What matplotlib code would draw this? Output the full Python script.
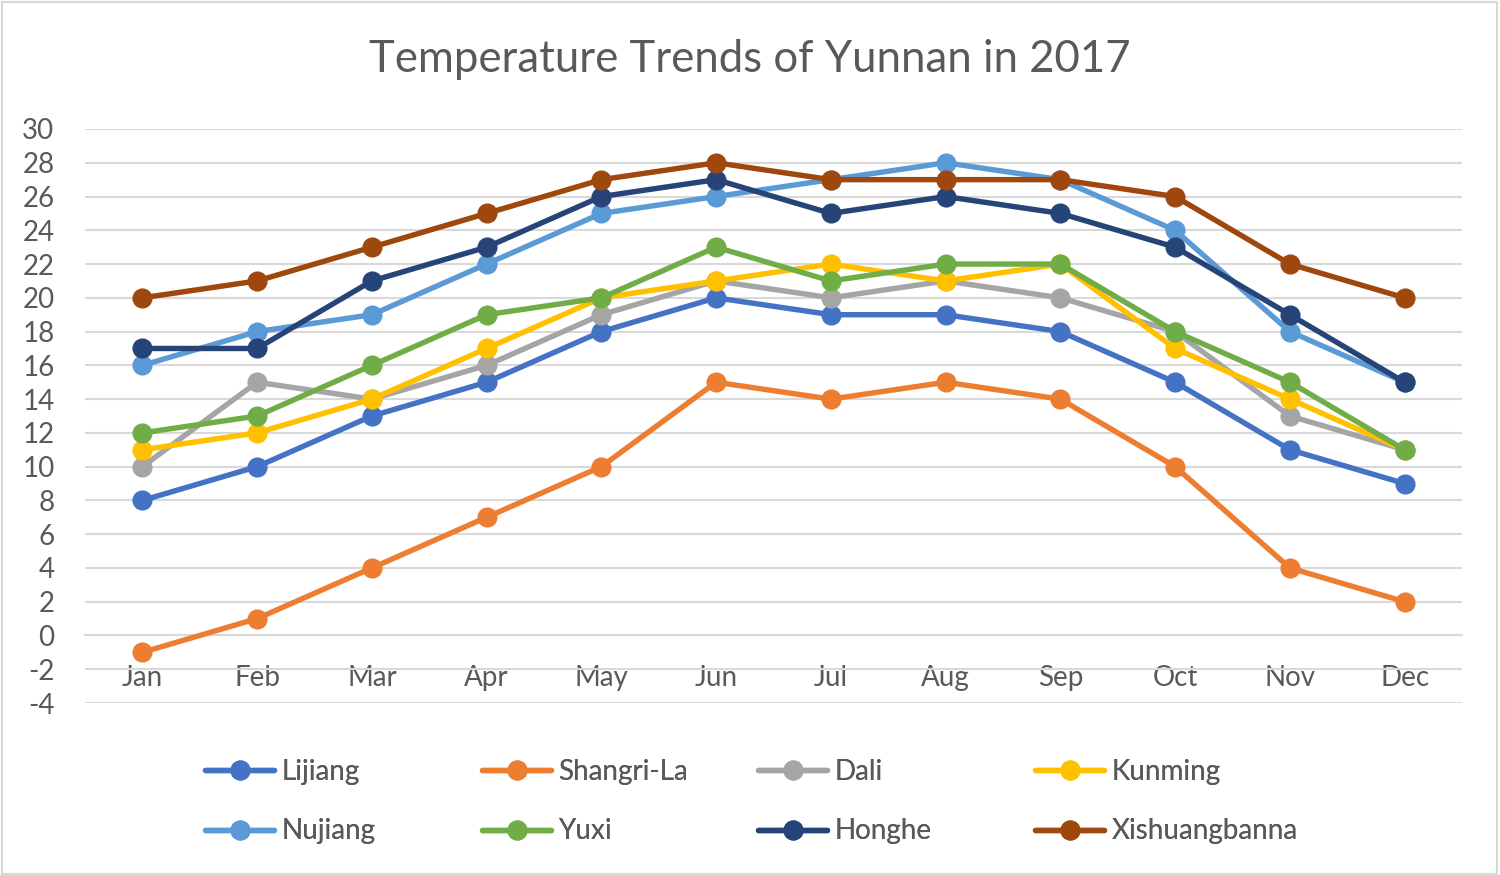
import matplotlib
matplotlib.use("Agg")
import matplotlib.pyplot as plt
from matplotlib.patches import Rectangle

plt.rcParams['font.family'] = ['Lato', 'DejaVu Sans']
plt.rcParams['axes.unicode_minus'] = False

months = ["Jan", "Feb", "Mar", "Apr", "May", "Jun", "Jul", "Aug", "Sep", "Oct", "Nov", "Dec"]

lijiang = [8, 10, 13, 15, 18, 20, 19, 19, 18, 15, 11, 9]
shangrila = [-1, 1, 4, 7, 10, 15, 14, 15, 14, 10, 4, 2]
dali = [10, 15, 14, 16, 19, 21, 20, 21, 20, 18, 13, 11]
kunming = [11, 12, 14, 17, 20, 21, 22, 21, 22, 17, 14, 11]
nujiang = [16, 18, 19, 22, 25, 26, 27, 28, 27, 24, 18, 15]
yuxi = [12, 13, 16, 19, 20, 23, 21, 22, 22, 18, 15, 11]
honghe = [17, 17, 21, 23, 26, 27, 25, 26, 25, 23, 19, 15]
xishuangbanna = [20, 21, 23, 25, 27, 28, 27, 27, 27, 26, 22, 20]

series_names = ["Lijiang", "Shangri-La", "Dali", "Kunming", "Nujiang", "Yuxi", "Honghe", "Xishuangbanna"]
series_values = [lijiang, shangrila, dali, kunming, nujiang, yuxi, honghe, xishuangbanna]
colors = ["#4472C4", "#ED7D31", "#A5A5A5", "#FFC000", "#5B9BD5", "#70AD47", "#264478", "#9E480E"]

text_color = "#595959"
grid_color = "#D9D9D9"

fig = plt.figure(figsize=(15, 8.75), dpi=100)
fig.patches.append(Rectangle((0.001, 0.001), 0.997, 0.997, transform=fig.transFigure,
                             fill=False, edgecolor=grid_color, linewidth=1.5))

ax = fig.add_axes([85 / 1500, 1 - 703 / 875, (1462 - 85) / 1500, (703 - 129) / 875])

handles = []
x = list(range(len(months)))
for i, (name, vals, c) in enumerate(zip(series_names, series_values, colors)):
    h, = ax.plot(x, vals, color=c, linewidth=3.9, marker='o', markersize=13.5,
                 label=name, zorder=3 + i, solid_capstyle='round', solid_joinstyle='round')
    handles.append(h)

ax.set_xlim(-0.5, len(months) - 0.5)
ax.set_ylim(-4, 30)
ax.set_yticks(range(-4, 31, 2))
ax.grid(axis='y', color=grid_color, linewidth=1.5, zorder=0)
ax.set_axisbelow(True)
for s in ['top', 'right', 'left']:
    ax.spines[s].set_visible(False)
ax.spines['bottom'].set_position(('data', 0))
ax.spines['bottom'].set_color(grid_color)
ax.spines['bottom'].set_linewidth(1.5)
ax.set_xticks(x)
ax.set_xticklabels(months)
ax.tick_params(axis='x', length=0, pad=21, labelsize=20, labelcolor=text_color)
ax.tick_params(axis='y', length=0, pad=22, labelsize=20, labelcolor=text_color)

fig.text(0.5, 1 - 60 / 875, "Temperature Trends of Yunnan in 2017", ha='center', va='center',
         fontsize=31.5, color=text_color)

col_x = [205, 482, 758, 1035]
for col in range(4):
    hs = [handles[col], handles[col + 4]]
    leg = fig.legend(hs, [h.get_label() for h in hs], loc='upper left',
                     bbox_to_anchor=(col_x[col] / 1500, 1 - 759 / 875),
                     frameon=False, fontsize=20, handlelength=2.5, handletextpad=0.25,
                     labelspacing=1.2, borderaxespad=0, borderpad=0, labelcolor=text_color)
    fig.add_artist(leg)

fig.savefig("out.png", dpi=100)
